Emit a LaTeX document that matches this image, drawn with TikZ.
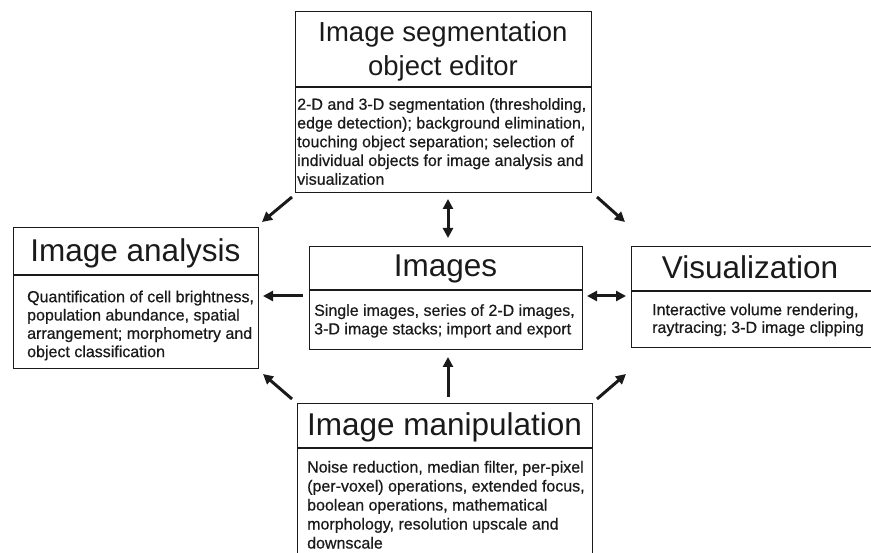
\documentclass[tikz,border=0pt]{standalone}
\usepackage{fontspec}
\setmainfont{Liberation Sans}
\newfontfamily\heavybody{Liberation Sans}[FakeBold=0.6]
\usetikzlibrary{arrows.meta,calc}
\definecolor{inkc}{HTML}{1A1A1A}
\begin{document}
\begin{tikzpicture}[x=1pt,y=-1pt,
  box/.style={draw=inkc,line width=1.4pt,inner sep=0pt,anchor=north west},
  divider/.style={draw=inkc,line width=1.4pt},
  titletxt/.style={text=inkc,inner sep=0pt,anchor=base,font=\fontsize{31.5}{36}\selectfont},
  bodytxt/.style={text=inkc,inner sep=0pt,anchor=north west,align=left},
  conn/.style={draw=inkc,line width=3pt,-{Triangle[length=10pt,width=10pt]}},
  twoway/.style={draw=inkc,line width=3pt,{Triangle[length=10pt,width=10pt]}-{Triangle[length=10pt,width=10pt]}}]
\useasboundingbox (0,0) rectangle (871,553);
\clip (0,0) rectangle (871,553);

% boxes
\node[box,minimum width=296pt,minimum height=181pt] (seg) at (295,11) {};
\node[box,minimum width=245pt,minimum height=141pt] (ana) at (13,227) {};
\node[box,minimum width=273pt,minimum height=103pt] (img) at (309,246) {};
\node[box,minimum width=241pt,minimum height=101pt] (vis) at (631,246) {};
\node[box,minimum width=295pt,minimum height=160pt] (man) at (297,403) {};

% dividers
\draw[divider] ($(seg.north west)+(0,76)$) -- ($(seg.north east)+(0,76)$);
\draw[divider] ($(ana.north west)+(0,48)$) -- ($(ana.north east)+(0,48)$);
\draw[divider] ($(img.north west)+(0,44)$) -- ($(img.north east)+(0,44)$);
\draw[divider] ($(vis.north west)+(0,45)$) -- ($(vis.north east)+(0,45)$);
\draw[divider] ($(man.north west)+(0,45)$) -- ($(man.north east)+(0,45)$);

% titles
\node[text=inkc,inner sep=0pt,anchor=north,align=center,font=\fontsize{27.5}{33.3}\selectfont] (segt) at (443,18.4) {\strut Image segmentation\\object editor};
\node[titletxt] (anat) at (135.5,262) {Image analysis};
\node[titletxt] (imgt) at (445.5,277) {Images};
\node[titletxt] (vist) at (750,279) {Visualization};
\node[titletxt] (mant) at (444.5,436) {Image manipulation};

% body texts
\node[bodytxt,font=\heavybody\fontsize{16}{18.75}\selectfont] (segb) at (297,96.4) {\strut 2-D and 3-D segmentation (thresholding,\\edge detection); background elimination,\\touching object separation; selection of\\individual objects for image analysis and\\visualization};
\node[bodytxt,font=\heavybody\fontsize{16}{18.3}\selectfont] (anab) at (27,289.2) {\strut Quantification of cell brightness,\\population abundance, spatial\\arrangement; morphometry and\\object classification};
\node[bodytxt,font=\heavybody\fontsize{16}{18.5}\selectfont] (imgb) at (314,302.7) {\strut Single images, series of 2-D images,\\3-D image stacks; import and export};
\node[bodytxt,font=\heavybody\fontsize{16}{17.7}\selectfont] (visb) at (652,302.6) {\strut Interactive volume rendering,\\raytracing; 3-D image clipping};
\node[bodytxt,font=\heavybody\fontsize{16}{19}\selectfont] (manb) at (307,459) {\strut Noise reduction, median filter, per-pixel\\(per-voxel) operations, extended focus,\\boolean operations, mathematical\\morphology, resolution upscale and\\downscale};

% arrow end points
\coordinate (segA) at (292,197);  \coordinate (anaA) at (262,222);
\coordinate (segV) at (597,197);  \coordinate (visA) at (625,222);
\coordinate (segI) at (448,199);  \coordinate (imgS) at (448,238);
\coordinate (imgL) at (303,296);  \coordinate (anaR) at (263,296);
\coordinate (imgR) at (587,296);  \coordinate (visL) at (626,296);
\coordinate (manI) at (448,397);  \coordinate (imgB) at (448,357);
\coordinate (manA) at (292,399);  \coordinate (anaB) at (263,374);
\coordinate (manV) at (597,399);  \coordinate (visB) at (626,374);

% connectors
\draw[conn] (segA) -- (anaA);
\draw[conn] (segV) -- (visA);
\draw[twoway] (segI) -- (imgS);
\draw[conn] (imgL) -- (anaR);
\draw[twoway] (imgR) -- (visL);
\draw[conn] (manI) -- (imgB);
\draw[conn] (manA) -- (anaB);
\draw[conn] (manV) -- (visB);
\end{tikzpicture}
\end{document}
